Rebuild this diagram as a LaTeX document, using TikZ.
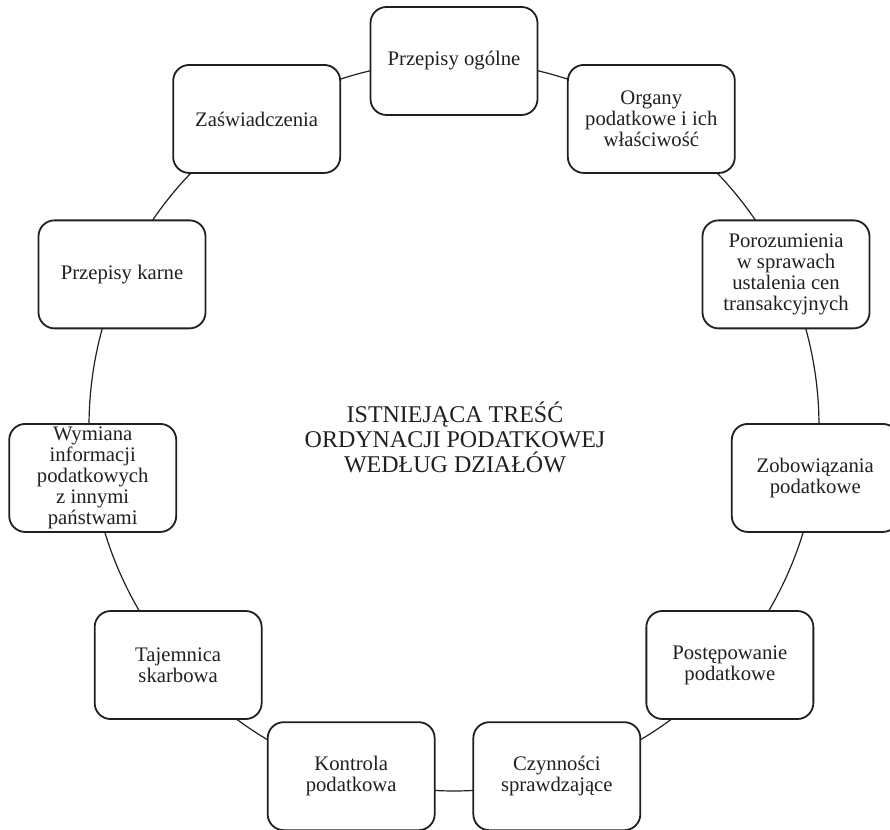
\documentclass[tikz,border=0pt]{standalone}
\usepackage{fontspec}
\setmainfont{Liberation Serif}
\usetikzlibrary{backgrounds}
\definecolor{ink}{HTML}{231F20}
\begin{document}
\begin{tikzpicture}[x=1pt,y=1pt,
  box/.style={draw=ink, line width=1.8pt, rounded corners=16pt, fill=white,
    minimum width=167pt, minimum height=108pt, inner sep=1pt, align=center,
    font=\fontsize{20.7}{21}\selectfont, text=ink},
  ring/.style={draw=ink, line width=1.2pt},
  title/.style={align=center, font=\fontsize{24}{25}\selectfont, text=ink}]
\useasboundingbox (0,0) rectangle (890,829);
\coordinate (C) at (454,403);
\node[box] (n1)  at ([shift={(90:365)}]C) {Przepisy ogólne};
\node[box] (n2)  at ([shift={(57.2727:365)}]C) {Organy\\podatkowe i ich\\właściwość};
\node[box] (n3)  at ([shift={(24.5455:365)}]C) {Porozumienia\\w sprawach\\ustalenia cen\\transakcyjnych};
\node[box] (n4)  at ([shift={(-8.1818:365)}]C) {Zobowiązania\\podatkowe};
\node[box] (n5)  at ([shift={(-40.9091:365)}]C) {Postępowanie\\podatkowe};
\node[box] (n6)  at ([shift={(-73.6364:365)}]C) {Czynności\\sprawdzające};
\node[box] (n7)  at ([shift={(-106.3636:365)}]C) {Kontrola\\podatkowa};
\node[box] (n8)  at ([shift={(-139.0909:365)}]C) {Tajemnica\\skarbowa};
\node[box] (n9)  at ([shift={(-171.8182:365)}]C) {Wymiana\\informacji\\podatkowych\\z innymi\\państwami};
\node[box] (n10) at ([shift={(155.4545:365)}]C) {Przepisy karne};
\node[box] (n11) at ([shift={(122.7273:365)}]C) {Zaświadczenia};
\node[title] (t) at (455,392) {ISTNIEJĄCA TREŚĆ\\ORDYNACJI PODATKOWEJ\\WEDŁUG DZIAŁÓW};
\begin{pgfonlayer}{background}
\draw[ring] (n1.center)  arc[start angle=90, delta angle=-32.7273, radius=365];
\draw[ring] (n2.center)  arc[start angle=57.2727, delta angle=-32.7273, radius=365];
\draw[ring] (n3.center)  arc[start angle=24.5455, delta angle=-32.7273, radius=365];
\draw[ring] (n4.center)  arc[start angle=-8.1818, delta angle=-32.7273, radius=365];
\draw[ring] (n5.center)  arc[start angle=-40.9091, delta angle=-32.7273, radius=365];
\draw[ring] (n6.center)  arc[start angle=-73.6364, delta angle=-32.7273, radius=365];
\draw[ring] (n7.center)  arc[start angle=-106.3636, delta angle=-32.7273, radius=365];
\draw[ring] (n8.center)  arc[start angle=-139.0909, delta angle=-32.7273, radius=365];
\draw[ring] (n9.center)  arc[start angle=-171.8182, delta angle=-32.7273, radius=365];
\draw[ring] (n10.center) arc[start angle=155.4545, delta angle=-32.7273, radius=365];
\draw[ring] (n11.center) arc[start angle=122.7273, delta angle=-32.7273, radius=365];
\end{pgfonlayer}
\end{tikzpicture}
\end{document}
